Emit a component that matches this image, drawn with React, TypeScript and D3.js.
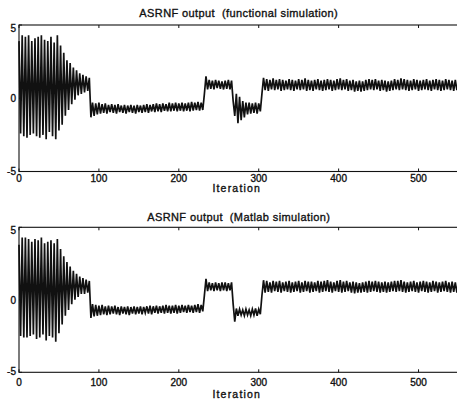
import * as d3 from "d3";

// chart size (matches the reference picture)
const width = 457;
const height = 401;

// one sample every STEP iterations
const STEP = 2;
const X_DOMAIN: [number, number] = [0, 550];
const Y_DOMAIN: [number, number] = [-5, 5];
const xTicks = [0, 100, 200, 300, 400, 500];
const yTicks = [-5, 0, 5];

const titleFunctional = "ASRNF output  (functional simulation)";
const titleMatlab = "ASRNF output  (Matlab simulation)";
const xLabel = "Iteration";

// ---- functional simulation ----
// iterations 0..88
const fnBurst = [
  3.9, -2.4, 4.3, -2.6, 4.2, -2.7, 4.3, -2.5, 3.9, -2.4,
  4.1, -2.6, 4.2, -2.7, 4.3, -2.5, 4.0, -2.8, 3.9, -2.3,
  4.2, -2.6, 3.8, -2.8, 4.3, -2.2, 3.6, -1.8, 3.1, -1.2,
  2.6, -0.8, 2.4, -0.4, 2.1, -0.1, 1.9, 0.2, 1.7, 0.3,
  1.6, 0.4, 1.5, 0.5, 1.4,
];
// iterations 90..230
const fnLow = [
  -1.3, -0.3, -1.2, -0.35, -1.1, -0.3, -1.05, -0.4, -1.0, -0.35,
  -1.05, -0.45, -0.95, -0.4, -1.0, -0.45, -1.05, -0.4, -0.95, -0.5,
  -1.0, -0.45, -1.05, -0.5, -0.95, -0.45, -1.0, -0.5, -1.05, -0.45,
  -0.95, -0.5, -1.0, -0.45, -0.95, -0.4, -1.0, -0.45, -0.9, -0.4,
  -0.95, -0.35, -0.9, -0.4, -0.95, -0.35, -0.85, -0.4, -0.9, -0.3,
  -0.9, -0.35, -0.85, -0.3, -0.9, -0.35, -0.85, -0.3, -0.9, -0.35,
  -0.85, -0.3, -0.9, -0.25, -0.85, -0.3, -0.8, -0.25, -0.85, -0.3, -0.8,
];
// iterations 232..266
const fnHigh1 = [
  0.3, 1.5, 0.6, 1.25, 0.65, 1.2, 0.6, 1.25, 0.7, 1.2,
  0.65, 1.15, 0.6, 1.2, 0.65, 1.25, 0.6, 1.2,
];
// iterations 268..302
const fnDip = [
  -0.2, -1.2, 0.3, -1.7, 0.1, -1.5, -0.2, -1.3, -0.3, -1.1,
  -0.3, -1.05, -0.35, -1.0, -0.3, -1.05, -0.35, -0.9,
];
// iterations 304..550
const fnHigh2 = [
  0.3, 1.4, 0.55, 1.3, 0.5, 1.25, 0.6, 1.35, 0.55, 1.25,
  0.6, 1.3, 0.5, 1.25, 0.55, 1.2, 0.6, 1.3, 0.55, 1.25,
  0.5, 1.2, 0.6, 1.3, 0.55, 1.25, 0.6, 1.35, 0.5, 1.25,
  0.55, 1.2, 0.5, 1.25, 0.6, 1.3, 0.55, 1.2, 0.5, 1.25,
  0.55, 1.3, 0.6, 1.25, 0.5, 1.2, 0.55, 1.3, 0.6, 1.35,
  0.55, 1.25, 0.6, 1.3, 0.5, 1.2, 0.55, 1.25, 0.45, 1.15,
  0.5, 1.2, 0.45, 1.15, 0.5, 1.25, 0.55, 1.3, 0.6, 1.25,
  0.55, 1.3, 0.6, 1.2, 0.5, 1.25, 0.55, 1.2, 0.45, 1.15,
  0.5, 1.2, 0.55, 1.3, 0.6, 1.25, 0.55, 1.35, 0.6, 1.3,
  0.55, 1.25, 0.5, 1.2, 0.55, 1.3, 0.6, 1.25, 0.5, 1.2,
  0.55, 1.25, 0.6, 1.3, 0.55, 1.2, 0.5, 1.25, 0.6, 1.3,
  0.55, 1.25, 0.5, 1.2, 0.55, 1.3, 0.6, 1.25, 0.55, 1.2,
  0.5, 1.25, 0.55, 1.2,
];

// ---- Matlab simulation (bottom panel) ----
const mlBurst = [
  3.8, -2.5, 4.3, -2.6, 4.3, -2.6, 4.2, -2.5, 4.0, -2.4,
  4.2, -2.7, 4.1, -2.6, 4.3, -2.4, 3.9, -2.8, 4.0, -2.5,
  4.1, -2.6, 3.9, -2.9, 4.2, -2.3, 3.5, -1.7, 3.0, -1.1,
  2.6, -0.7, 2.3, -0.3, 2.0, 0.0, 1.8, 0.2, 1.6, 0.4,
  1.5, 0.4, 1.4, 0.5, 1.3,
];
const mlLow = [
  -1.25, -0.3, -1.15, -0.35, -1.1, -0.4, -1.05, -0.35, -1.0, -0.45,
  -1.05, -0.4, -1.0, -0.45, -0.95, -0.4, -1.0, -0.5, -1.05, -0.45,
  -0.95, -0.5, -1.0, -0.45, -1.05, -0.5, -0.95, -0.45, -1.0, -0.5,
  -0.95, -0.45, -1.0, -0.5, -0.9, -0.45, -0.95, -0.4, -1.0, -0.45,
  -0.9, -0.4, -0.95, -0.45, -0.9, -0.4, -0.95, -0.35, -0.9, -0.4,
  -0.95, -0.4, -0.9, -0.35, -0.95, -0.4, -0.9, -0.35, -0.85, -0.4,
  -0.9, -0.35, -0.85, -0.4, -0.9, -0.35, -0.85, -0.3, -0.9, -0.35, -0.8,
];
const mlHigh1 = [
  0.3, 1.45, 0.6, 1.2, 0.65, 1.15, 0.6, 1.2, 0.65, 1.15,
  0.6, 1.2, 0.65, 1.2, 0.6, 1.15, 0.65, 1.2,
];
const mlDip = [
  -0.3, -1.5, -0.6, -1.1, -0.65, -1.05, -0.7, -1.1, -0.65, -1.05,
  -0.7, -1.1, -0.65, -1.05, -0.6, -1.1, -0.65, -1.0,
];
const mlHigh2 = [
  0.3, 1.35, 0.5, 1.3, 0.55, 1.2, 0.5, 1.3, 0.6, 1.25,
  0.55, 1.3, 0.5, 1.2, 0.6, 1.25, 0.55, 1.3, 0.5, 1.2,
  0.55, 1.25, 0.6, 1.3, 0.5, 1.2, 0.55, 1.3, 0.6, 1.25,
  0.5, 1.25, 0.55, 1.2, 0.6, 1.3, 0.5, 1.25, 0.55, 1.3,
  0.6, 1.35, 0.55, 1.25, 0.5, 1.2, 0.6, 1.3, 0.55, 1.35,
  0.5, 1.25, 0.55, 1.3, 0.6, 1.2, 0.5, 1.25, 0.45, 1.2,
  0.5, 1.15, 0.5, 1.2, 0.55, 1.25, 0.5, 1.3, 0.55, 1.25,
  0.6, 1.3, 0.55, 1.25, 0.5, 1.2, 0.55, 1.25, 0.5, 1.2,
  0.55, 1.25, 0.6, 1.3, 0.55, 1.3, 0.6, 1.35, 0.55, 1.25,
  0.5, 1.2, 0.55, 1.25, 0.6, 1.3, 0.55, 1.2, 0.5, 1.25,
  0.6, 1.3, 0.55, 1.25, 0.5, 1.2, 0.55, 1.3, 0.6, 1.25,
  0.5, 1.2, 0.55, 1.25, 0.6, 1.3, 0.55, 1.2, 0.5, 1.25,
  0.55, 1.2, 0.5, 1.25,
];

const functional = [...fnBurst, ...fnLow, ...fnHigh1, ...fnDip, ...fnHigh2];
const matlab = [...mlBurst, ...mlLow, ...mlHigh1, ...mlDip, ...mlHigh2];

const INK = "#111";
const FONT = "'Liberation Sans', Arial, sans-serif";

type PanelProps = {
  title: string;
  values: number[];
  top: number;
  bottom: number;
  titleY: number;
  tickY: number;
  labelY: number;
};

const xScale = d3.scaleLinear().domain(X_DOMAIN).range([19, 458.5]);

function Panel({ title, values, top, bottom, titleY, tickY, labelY }: PanelProps) {
  const yScale = d3.scaleLinear().domain(Y_DOMAIN).range([bottom, top]);
  const line = d3
    .line<number>()
    .x((_, i) => xScale(i * STEP))
    .y((d) => yScale(d));
  const [x0, x1] = xScale.range();
  const cx = (x0 + x1) / 2;

  return (
    <g>
      {/* title */}
      <text
        x={cx}
        y={titleY}
        textAnchor="middle"
        fontFamily={FONT}
        fontSize={11}
        letterSpacing={0.4}
        fill={INK}
        stroke={INK}
        strokeWidth={0.35}
        style={{ whiteSpace: "pre" }}
      >
        {title}
      </text>

      {/* signal */}
      <path d={line(values) || ""} fill="none" stroke={INK} strokeWidth={1.7} strokeLinejoin="miter" />

      {/* axes box */}
      <rect x={x0} y={top} width={x1 - x0} height={bottom - top} fill="none" stroke={INK} strokeWidth={1.1} />

      {/* x ticks (inward, top and bottom) */}
      {xTicks.map((t) => (
        <g key={t}>
          <line x1={xScale(t)} x2={xScale(t)} y1={bottom} y2={bottom - 3} stroke={INK} />
          <line x1={xScale(t)} x2={xScale(t)} y1={top} y2={top + 3} stroke={INK} />
          <text
            x={xScale(t)}
            y={tickY}
            textAnchor="middle"
            fontFamily={FONT}
            fontSize={10}
            fill={INK}
            stroke={INK}
            strokeWidth={0.35}
          >
            {t}
          </text>
        </g>
      ))}

      {/* y ticks */}
      {yTicks.map((t) => (
        <g key={t}>
          <line x1={x0} x2={x0 + 3} y1={yScale(t)} y2={yScale(t)} stroke={INK} />
          <text
            x={x0 - 3}
            y={yScale(t) + (t === 5 ? 7 : t === -5 ? 3 : 4)}
            textAnchor="end"
            fontFamily={FONT}
            fontSize={10}
            fill={INK}
            stroke={INK}
            strokeWidth={0.35}
          >
            {t}
          </text>
        </g>
      ))}

      {/* x label */}
      <text
        x={cx - 2}
        y={labelY}
        textAnchor="middle"
        fontFamily={FONT}
        fontSize={10.5}
        letterSpacing={1.2}
        fill={INK}
        stroke={INK}
        strokeWidth={0.35}
      >
        {xLabel}
      </text>
    </g>
  );
}

export default function App() {
  return (
    <div style={{ position: "absolute", left: 0, top: 0, background: "#fff" }}>
      <svg width={width} height={height} style={{ display: "block" }}>
        <rect width={width} height={height} fill="#fff" />
        <Panel title={titleFunctional} values={functional} top={25} bottom={171.5} titleY={17} tickY={181.5} labelY={192} />
        <Panel title={titleMatlab} values={matlab} top={227.3} bottom={372.3} titleY={221} tickY={386} labelY={398} />
      </svg>
    </div>
  );
}
